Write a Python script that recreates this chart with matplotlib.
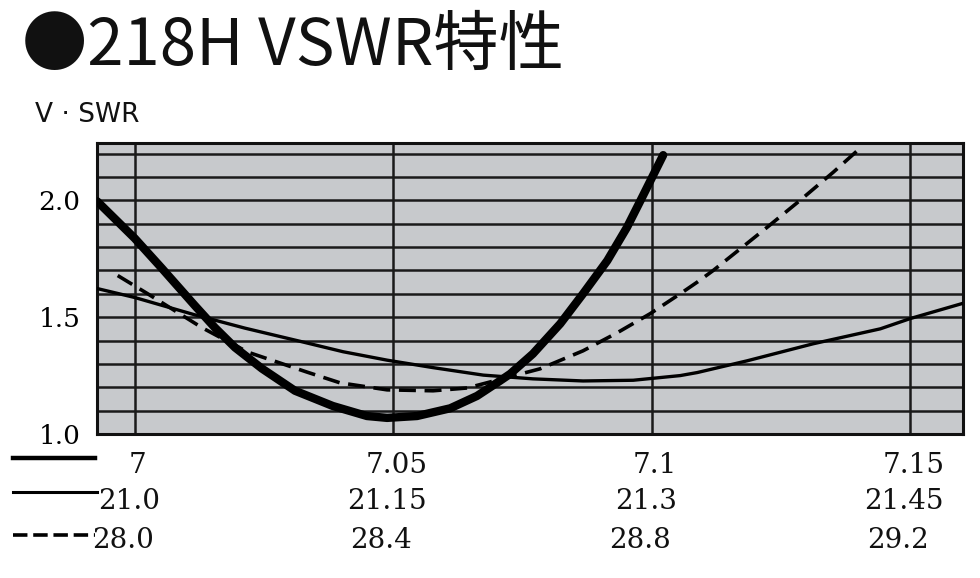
import numpy as np
import matplotlib
matplotlib.use("Agg")
import matplotlib.pyplot as plt
import matplotlib.transforms as mtransforms
from matplotlib.lines import Line2D

# VSWR curves, x on the 7 MHz scale
x_7 = [6.9927, 7.0000, 7.0052, 7.0116, 7.0155, 7.0194, 7.0246, 7.0310,
       7.0383, 7.0449, 7.0488, 7.0546, 7.0610, 7.0662, 7.0706, 7.0726,
       7.0770, 7.0823, 7.0867, 7.0914, 7.0952, 7.0983, 7.1022]
y_7 = [1.996, 1.837, 1.71, 1.55, 1.455, 1.37, 1.28, 1.185,
       1.12, 1.077, 1.069, 1.077, 1.11, 1.163, 1.227, 1.257,
       1.343, 1.472, 1.60, 1.742, 1.884, 2.02, 2.193]

x_21 = [6.9928, 7.0000, 7.0116, 7.0213, 7.0319, 7.0403, 7.0488, 7.0577,
        7.0674, 7.0770, 7.0867, 7.0964, 7.1055, 7.1088, 7.1184, 7.1312,
        7.1442, 7.1500, 7.1600]
y_21 = [1.622, 1.584, 1.51, 1.453, 1.397, 1.352, 1.316, 1.284,
        1.252, 1.236, 1.227, 1.23, 1.25, 1.263, 1.313, 1.386,
        1.45, 1.494, 1.558]

x_28 = [6.9967, 7.0025, 7.0130, 7.0219, 7.0333, 7.0397, 7.0488, 7.0577,
        7.0643, 7.0784, 7.0867, 7.0933, 7.0997, 7.1055, 7.1088, 7.1119,
        7.1184, 7.1229, 7.1287, 7.1351, 7.1403]
y_28 = [1.678, 1.60, 1.455, 1.35, 1.265, 1.219, 1.189, 1.185,
        1.197, 1.279, 1.356, 1.433, 1.515, 1.60, 1.65, 1.70,
        1.815, 1.895, 2.0, 2.12, 2.223]

x_ticks = [7.0, 7.05, 7.1, 7.15]
row_7 = ["7", "7.05", "7.1", "7.15"]
row_21 = ["21.0", "21.15", "21.3", "21.45"]
row_28 = ["28.0", "28.4", "28.8", "29.2"]
y_ticks = [1.0, 1.5, 2.0]
y_ticklabels = ["1.0", "1.5", "2.0"]

fig = plt.figure(figsize=(9.8, 5.78), dpi=100)
ax = fig.add_axes([0.099, 0.2491, 0.8837, 0.5035])
ax.set_facecolor("#c7c9cc")
ax.set_xlim(6.9927, 7.1602)
ax.set_ylim(1.0, 2.245)

for v in np.arange(1.1, 2.25, 0.1):
    ax.axhline(v, color="#1a1a1a", lw=1.8, zorder=1)
for v in x_ticks:
    ax.axvline(v, color="#1a1a1a", lw=1.8, zorder=1)
for s in ax.spines.values():
    s.set_linewidth(2.2)
    s.set_color("#111111")

ax.plot(x_7, y_7, color="black", lw=6, solid_capstyle="round",
        solid_joinstyle="round", zorder=4)
ax.plot(x_21, y_21, color="black", lw=2.4, solid_joinstyle="round", zorder=3)
ax.plot(x_28, y_28, color="black", lw=2.6, dashes=(4.7, 2.4), zorder=3)

serif = "DejaVu Serif"
ax.set_xticks([])
ax.set_yticks(y_ticks)
ax.set_yticklabels(y_ticklabels, fontsize=19, family=serif)
ax.tick_params(axis="y", length=0, pad=12)

# three rows of frequency labels under the plot
trans = mtransforms.blended_transform_factory(ax.transData, fig.transFigure)
rows = [(row_7, 0.1955, 3), (row_21, 0.1315, -6), (row_28, 0.0657, -12)]
for labels, fy, dx in rows:
    off = mtransforms.offset_copy(trans, fig=fig, x=dx, y=0, units="dots")
    for xv, lab in zip(x_ticks, labels):
        fig.text(xv, fy, lab, transform=off, ha="center", va="center",
                 fontsize=20, family=serif, color="#111111")

# line samples at the left of the label rows
fig.add_artist(Line2D([0.013, 0.097], [0.208, 0.208], color="black", lw=3.2))
fig.add_artist(Line2D([0.013, 0.099], [0.149, 0.149], color="black", lw=2.2))
fig.add_artist(Line2D([0.013, 0.097], [0.074, 0.074], color="black", lw=2.6,
                      dashes=(4, 1.6)))

fig.text(0.022, 1 - 47 / 578, "●218H VSWR特性", fontsize=47,
         family=["Noto Sans CJK JP", "DejaVu Sans"], va="center", ha="left",
         color="#111111")
fig.text(0.036, 1 - 115 / 578, "V · SWR", fontsize=19, family="DejaVu Sans",
         va="center", ha="left", color="#111111")

fig.savefig("out.png", dpi=100, facecolor="white")
